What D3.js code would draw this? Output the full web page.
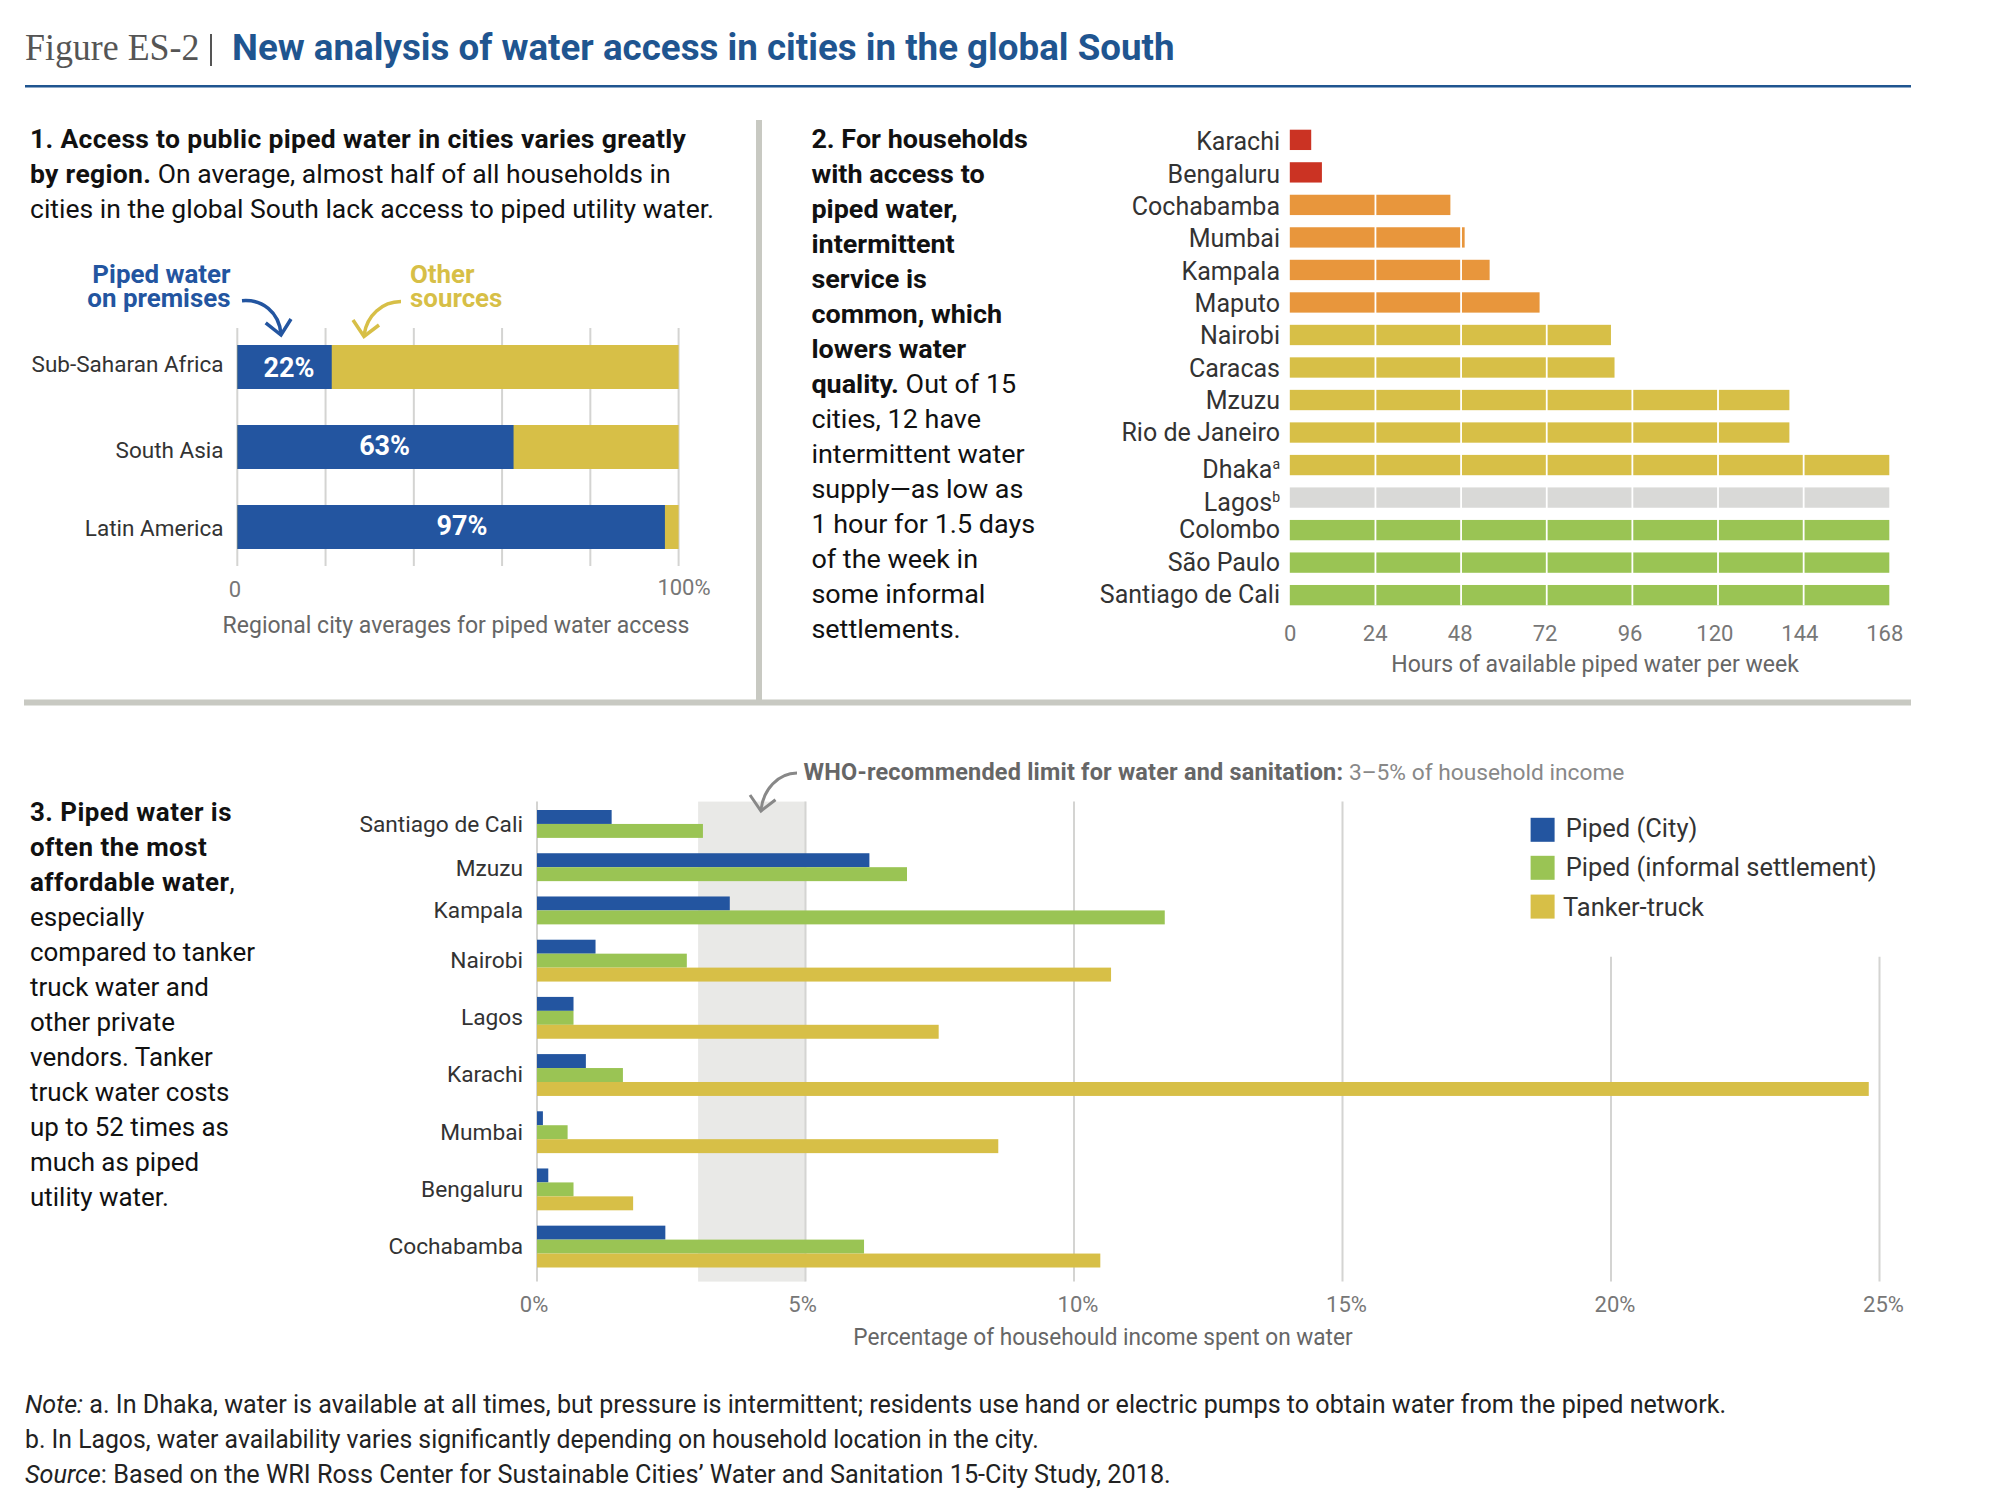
<!DOCTYPE html>
<html>
<head>
<meta charset="utf-8">
<script src="https://cdn.jsdelivr.net/npm/d3@7"></script>
<style>
  html, body { margin: 0; padding: 0; background: #fff; }
  svg { display: block; }
</style>
</head>
<body>
<svg id="fig" width="2000" height="1507"></svg>
<script>
// panel 1
var regions = ["Sub-Saharan Africa", "South Asia", "Latin America"];
var regionPiped = [21.4, 62.6, 96.9];
var regionLabels = ["22%", "63%", "97%"];

// panel 2
var hourCities = ["Karachi", "Bengaluru", "Cochabamba", "Mumbai", "Kampala", "Maputo", "Nairobi", "Caracas", "Mzuzu", "Rio de Janeiro", "Dhaka", "Lagos", "Colombo", "São Paulo", "Santiago de Cali"];
var hourValues = [6, 9, 45, 49, 56, 70, 90, 91, 140, 140, 168, 168, 168, 168, 168];
var hourGroups = ["red", "red", "orange", "orange", "orange", "orange", "yellow", "yellow", "yellow", "yellow", "yellow", "gray", "green", "green", "green"];
var hourTicks = [0, 24, 48, 72, 96, 120, 144, 168];

// panel 3
var costCities = ["Santiago de Cali", "Mzuzu", "Kampala", "Nairobi", "Lagos", "Karachi", "Mumbai", "Bengaluru", "Cochabamba"];
var costCity = [1.39, 6.19, 3.59, 1.09, 0.68, 0.91, 0.11, 0.21, 2.39];
var costInformal = [3.09, 6.89, 11.69, 2.79, 0.68, 1.6, 0.57, 0.68, 6.09];
var costTanker = [null, null, null, 10.69, 7.48, 24.8, 8.59, 1.79, 10.49];
var costTicks = [0, 5, 10, 15, 20, 25];
var whoLimit = [3, 5];
var legendNames = ["Piped (City)", "Piped (informal settlement)", "Tanker-truck"];

var para1 = [
    [["1. Access to public piped water in cities varies greatly", 1]],
    [["by region.", 1], [" On average, almost half of all households in", 0]],
    [["cities in the global South lack access to piped utility water.", 0]]
];
var para2 = [
    [["2. For households", 1]], [["with access to", 1]], [["piped water,", 1]], [["intermittent", 1]],
    [["service is", 1]], [["common, which", 1]], [["lowers water", 1]],
    [["quality.", 1], [" Out of 15", 0]], [["cities, 12 have", 0]], [["intermittent water", 0]],
    [["supply—as low as", 0]], [["1 hour for 1.5 days", 0]], [["of the week in", 0]],
    [["some informal", 0]], [["settlements.", 0]]
];
var para3 = [
    [["3. Piped water is", 1]], [["often the most", 1]], [["affordable water", 1], [",", 0]],
    [["especially", 0]], [["compared to tanker", 0]], [["truck water and", 0]], [["other private", 0]],
    [["vendors. Tanker", 0]], [["truck water costs", 0]], [["up to 52 times as", 0]],
    [["much as piped", 0]], [["utility water.", 0]]
];

var BLUE = "#2355a0", GREEN = "#9ac454", YELLOW = "#d7bf47";
var groupColor = { red: "#cb3323", orange: "#e8963c", yellow: YELLOW, gray: "#d9d9d7", green: GREEN };
var FONT = "Roboto, 'Liberation Sans', sans-serif";

var svg = d3.select("#fig");

// all text goes through here so the horizontal squeeze stays in one place
function label(g, x, y, segs, o) {
    o = o || {};
    var t = g.append("text")
        .attr("transform", "translate(" + x + "," + y + ") scale(" + (o.sx || 1) + ",1)")
        .attr("text-anchor", o.anchor || "start")
        .style("font-family", o.font || FONT)
        .style("font-size", (o.size || 25) + "px")
        .style("fill", o.fill || "#222");
    if (typeof segs === "string") segs = [[segs, o.bold ? 1 : 0]];
    segs.forEach(function (s) {
        var sp = t.append("tspan").text(s[0]).style("font-weight", s[1] ? 700 : 400);
        if (s[1] && o.boldSpacing) sp.style("letter-spacing", o.boldSpacing + "px");
        if (s[2]) sp.style("fill", s[2]);
        if (s[3]) sp.style("font-style", "italic");
        if (s[4]) sp.style("font-size", s[4] + "px");
    });
    return t;
}

function paragraph(g, x, y, lines, sx, boldSpacing) {
    lines.forEach(function (l, i) {
        label(g, x, y + i * 35, l, { size: 26, fill: "#111", sx: sx, boldSpacing: boldSpacing });
    });
}

// two tight lines kept in one text element
function twoLines(g, x, y, a, b, o) {
    var t = label(g, x, y, a, o);
    t.append("tspan").attr("x", 0).attr("dy", 24).text(b).style("font-weight", 700);
}

function arrow(g, d, color, w) {
    g.append("path").attr("d", d).attr("fill", "none").attr("stroke", color)
        .attr("stroke-width", w || 3.5).attr("stroke-linejoin", "miter");
}

/* ---- header ---- */
label(svg, 25, 60, "Figure ES-2", { font: "'Liberation Serif', serif", size: 37, fill: "#555", sx: 0.97 });
svg.append("line").attr("x1", 211).attr("x2", 211).attr("y1", 34).attr("y2", 66).attr("stroke", "#555").attr("stroke-width", 2);
label(svg, 232, 60, "New analysis of water access in cities in the global South", { size: 36, bold: 1, fill: "#1f5590", sx: 1.02 });
svg.append("rect").attr("x", 25).attr("y", 85).attr("width", 1886).attr("height", 2.5).attr("fill", "#1f5590");

// panel dividers
svg.append("rect").attr("x", 756).attr("y", 120).attr("width", 6).attr("height", 585).attr("fill", "#c8c9c2");
svg.append("rect").attr("x", 24).attr("y", 699.5).attr("width", 1887).attr("height", 6).attr("fill", "#c8c9c2");

/* ---- panel 1 ---- */
var p1 = svg.append("g");
paragraph(p1, 30, 148, para1, 1.02, 0.3);

var x1 = d3.scaleLinear().domain([0, 100]).range([237.3, 678.6]);
var y1 = d3.scaleBand().domain(regions).range([345, 549]).paddingInner(0.45);

p1.selectAll(".grid").data(d3.range(0, 101, 20)).enter().append("line")
    .attr("x1", d => x1(d)).attr("x2", d => x1(d))
    .attr("y1", 328).attr("y2", 566)
    .attr("stroke", "#d4d4d2").attr("stroke-width", 2);

p1.selectAll(".other").data(regions).enter().append("rect")
    .attr("x", x1(0)).attr("y", d => y1(d))
    .attr("width", x1(100) - x1(0)).attr("height", y1.bandwidth())
    .attr("fill", YELLOW);
p1.selectAll(".piped").data(regions).enter().append("rect")
    .attr("x", x1(0)).attr("y", d => y1(d))
    .attr("width", (d, i) => x1(regionPiped[i]) - x1(0)).attr("height", y1.bandwidth())
    .attr("fill", BLUE);

var nudge1 = [5, 11, 9];
regions.forEach(function (r, i) {
    label(p1, 223.5, y1(r) + y1.bandwidth() / 2 + nudge1[i], r, { size: 22.5, anchor: "end", fill: "#333" });
});
var valueX = [289, 384.6, 462], valueDy = [9.5, 7.5, 8];
regionLabels.forEach(function (v, i) {
    label(p1, valueX[i], y1(regions[i]) + y1.bandwidth() / 2 + valueDy[i], v, { size: 27, bold: 1, fill: "#fff", anchor: "middle" });
});
label(p1, 235, 597, "0", { size: 22, fill: "#777", anchor: "middle" });
label(p1, 684, 595, "100%", { size: 22, fill: "#777", anchor: "middle" });
label(p1, 456, 632.5, "Regional city averages for piped water access", { size: 23, fill: "#666", anchor: "middle" });

twoLines(p1, 230.5, 283, "Piped water", "on premises", { size: 25.5, bold: 1, fill: BLUE, anchor: "end", sx: 1.015 });
twoLines(p1, 410, 283, "Other", "sources", { size: 25.5, bold: 1, fill: YELLOW, sx: 1.015 });
arrow(p1, "M242,300.7C262,299 279,312 281,334", BLUE);
arrow(p1, "M265.7,322.8L281,335L291,319", BLUE);
arrow(p1, "M401,301.6C382,302 367,315 364,335", YELLOW);
arrow(p1, "M353,320L364,336.5L379,325", YELLOW);

/* ---- panel 2 ---- */
var p2 = svg.append("g");
paragraph(p2, 811.4, 148, para2, 1.037);

var x2 = d3.scaleLinear().domain([0, 168]).range([1289.8, 1889.3]);
var y2 = d3.scaleBand().domain(hourCities).range([129.7, 605.3]).paddingInner(0.375);

p2.selectAll(".hours").data(hourCities).enter().append("rect")
    .attr("x", x2(0)).attr("y", d => y2(d))
    .attr("width", (d, i) => x2(hourValues[i]) - x2(0)).attr("height", y2.bandwidth())
    .attr("fill", (d, i) => groupColor[hourGroups[i]]);

// white day lines sit on top of the bars
p2.selectAll(".day").data(hourTicks.slice(1, -1)).enter().append("line")
    .attr("x1", d => x2(d)).attr("x2", d => x2(d))
    .attr("y1", y2.range()[0]).attr("y2", y2.range()[1])
    .attr("stroke", "#fff").attr("stroke-width", 1.8);

hourCities.forEach(function (c, i) {
    var base = y2(c) + y2.bandwidth();
    var t;
    if (c === "Dhaka" || c === "Lagos") {
        t = label(p2, 1280, base + 3, c, { anchor: "end", fill: "#333" });
        t.append("tspan").text(c === "Dhaka" ? "a" : "b").attr("dy", -9).style("font-size", "14px");
    } else {
        // labels run on a slightly tighter pitch than the bars
        label(p2, 1280, base - 1 + (7 - i) * 0.2, c, { anchor: "end", fill: "#333" });
    }
});

var axis2 = d3.axisBottom(x2).tickValues(hourTicks).tickSize(0).tickPadding(0);
var ax2 = p2.append("g").attr("transform", "translate(0,624)").call(axis2);
ax2.select(".domain").remove();
ax2.selectAll("text")
    .attr("dy", 0).attr("y", 16.5)
    .attr("transform", d => "translate(" + (-d * 0.03) + ",0)")
    .style("font-family", FONT).style("font-size", "22px").style("fill", "#777");
label(p2, 1595, 671.5, "Hours of available piped water per week", { size: 23, fill: "#666", anchor: "middle" });

/* ---- panel 3 ---- */
var p3 = svg.append("g");
paragraph(p3, 30, 821, para3, 0.998, 0.47);

var x3 = d3.scaleLinear().domain([0, 25]).range([537, 1879.5]);

// rows are stacked by slot: one unit per bar plus a fixed gap after each city
var GAP = 1.1;
var series = [costCity, costInformal, costTanker];
var seriesColor = [BLUE, GREEN, YELLOW];
var rows = [], groups = [], slot = 0;
costCities.forEach(function (c, i) {
    var start = slot;
    series.forEach(function (s, k) {
        if (s[i] === null) return;
        rows.push({ city: c, value: s[i], k: k, slot: slot });
        slot += 1;
    });
    groups.push({ city: c, mid: (start + slot) / 2 });
    slot += GAP;
});
var y3 = d3.scaleLinear().domain([0, slot - GAP]).range([810, 1267.5]);
var rowH = y3(1) - y3(0);

p3.append("rect").attr("x", x3(whoLimit[0])).attr("y", 801.6)
    .attr("width", x3(whoLimit[1]) - x3(whoLimit[0])).attr("height", 480)
    .attr("fill", "#e9e9e7");

p3.selectAll(".grid").data(costTicks).enter().append("line")
    .attr("x1", d => x3(d)).attr("x2", d => x3(d))
    .attr("y1", d => d >= 20 ? 956.7 : 801.6).attr("y2", 1281.6)
    .attr("stroke", "#d4d4d2").attr("stroke-width", 2);

p3.selectAll(".cost").data(rows).enter().append("rect")
    .attr("x", x3(0)).attr("y", d => y3(d.slot))
    .attr("width", d => x3(d.value) - x3(0)).attr("height", rowH)
    .attr("fill", d => seriesColor[d.k]);

var nudge3 = [1, 2, 0, 0, 0, 0, 0, 0, 0];
groups.forEach(function (g, i) {
    label(p3, 523, y3(g.mid) + 7.3 + nudge3[i], g.city, { size: 22.7, anchor: "end", fill: "#333" });
});

var axis3 = d3.axisBottom(x3).tickValues(costTicks).tickFormat(d => d + "%").tickSize(0).tickPadding(0);
var ax3 = p3.append("g").attr("transform", "translate(0,1295)").call(axis3);
ax3.select(".domain").remove();
ax3.selectAll("text")
    .attr("dy", 0).attr("y", 16.5)
    .attr("transform", d => "translate(" + (d < 10 ? -3.5 : 3.5) + ",0)")
    .style("font-family", FONT).style("font-size", "22px").style("fill", "#777");
label(p3, 1103, 1344.5, "Percentage of househould income spent on water", { size: 23, fill: "#666", anchor: "middle", sx: 0.985 });

label(p3, 803.6, 780, [["WHO-recommended limit for water and sanitation:", 1, "#666"], [" 3–5% of household income", 0, "#888", 0, 22.3]], { size: 23, sx: 1.02, boldSpacing: 0.2 });
arrow(p3, "M797,773C778,773 763,790 761,810", "#888", 3);
arrow(p3, "M750,795L761,811L775.5,799.7", "#888", 3);

var legendY = [817.8, 855.8, 894.6], legendTextY = [837, 876, 916], legendTextX = [1565.7, 1565.7, 1563];
legendNames.forEach(function (n, i) {
    p3.append("rect").attr("x", 1530.6).attr("y", legendY[i]).attr("width", 24).attr("height", 24).attr("fill", seriesColor[i]);
    label(p3, legendTextX[i], legendTextY[i], n, { size: 25, fill: "#333", sx: 1.02 });
});

/* ---- notes ---- */
var notes = svg.append("g");
label(notes, 25, 1413, [["Note:", 0, null, 1], [" a. In Dhaka, water is available at all times, but pressure is intermittent; residents use hand or electric pumps to obtain water from the piped network.", 0]], { size: 25, sx: 1.004 });
label(notes, 25, 1448, "b. In Lagos, water availability varies significantly depending on household location in the city.", { size: 25, sx: 0.991 });
label(notes, 25, 1482.5, [["Source", 0, null, 1], [": Based on the WRI Ross Center for Sustainable Cities’ Water and Sanitation 15-City Study, 2018.", 0]], { size: 25, sx: 1.01 });
</script>
</body>
</html>
